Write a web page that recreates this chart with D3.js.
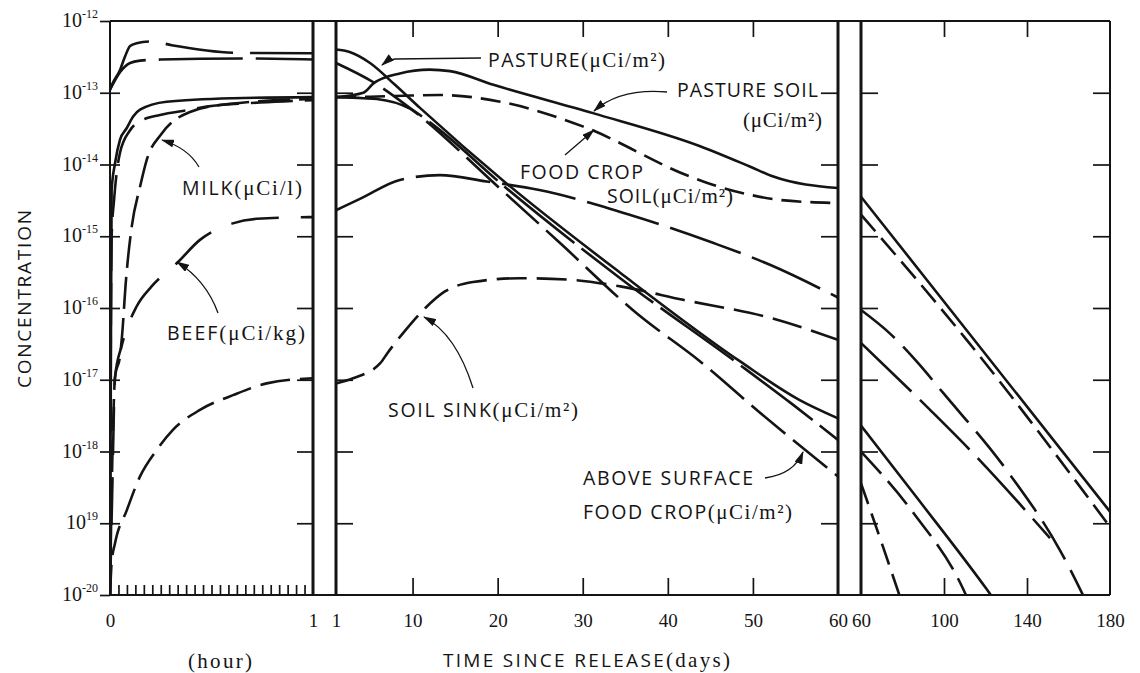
<!DOCTYPE html>
<html>
<head>
<meta charset="utf-8">
<script src="https://cdn.jsdelivr.net/npm/d3@7"></script>
<style>
  body { margin: 0; background: #fff; }
  svg { display: block; }
</style>
</head>
<body>
<div id="chart"></div>
<script>
// y axis decades and their printed exponents (the original prints "19" without the minus)
var decades = [1e-20, 1e-19, 1e-18, 1e-17, 1e-16, 1e-15, 1e-14, 1e-13, 1e-12];
var decadeLabels = ["-20", "19", "-18", "-17", "-16", "-15", "-14", "-13", "-12"];

// x ticks for the three time windows
var hourTicks = [0, 1];
var dayTicks = [1, 10, 20, 30, 40, 50, 60];
var lateTicks = [60, 100, 140, 180];

// ---- first hour (t in hours) ----
var pastureHour = [[0, 1.1e-13], [0.01, 1.3e-13], [0.05, 2.1e-13], [0.074, 3.2e-13], [0.099, 4.5e-13], [0.131, 4.9e-13], [0.205, 5.2e-13], [0.304, 4.6e-13], [0.631, 3.6e-13], [1, 3.55e-13]];
var aboveHour = [[0, 1.1e-13], [0.05, 1.95e-13], [0.099, 2.6e-13], [0.148, 2.8e-13], [0.246, 2.9e-13], [0.65, 3.0e-13], [1, 2.9e-13]];
var pastureSoilHour = [[0, 1e-20], [0.004, 1e-17], [0.008, 4.4e-15], [0.025, 1.05e-14], [0.049, 2.2e-14], [0.082, 3.2e-14], [0.115, 4.7e-14], [0.148, 5.8e-14], [0.279, 7.5e-14], [0.606, 8.4e-14], [1, 8.7e-14]];
var foodSoilHour = [[0, 1e-20], [0.003, 1e-17], [0.008, 1e-15], [0.02, 3.2e-15], [0.049, 1.45e-14], [0.099, 3.0e-14], [0.163, 4.2e-14], [0.246, 4.9e-14], [0.394, 5.8e-14], [0.476, 6.4e-14], [0.739, 7.3e-14], [1, 7.9e-14]];
var milkHour = [[0, 1e-20], [0.01, 5e-19], [0.025, 1.1e-17], [0.05, 2.2e-17], [0.059, 4.0e-17], [0.079, 2.5e-16], [0.107, 1.36e-15], [0.148, 4.9e-15], [0.181, 1.16e-14], [0.255, 2.7e-14], [0.394, 5.4e-14], [0.591, 7.0e-14], [1, 8.2e-14]];
var beefHour = [[0, 1e-20], [0.01, 2.1e-19], [0.025, 1.1e-17], [0.058, 3.0e-17], [0.131, 1.05e-16], [0.205, 2.0e-16], [0.329, 4.2e-16], [0.443, 8.9e-16], [0.6, 1.5e-15], [0.723, 1.75e-15], [1, 1.85e-15]];
var sinkHour = [[0, 1e-20], [0.008, 2.8e-20], [0.025, 5.3e-20], [0.082, 1.5e-19], [0.148, 4.5e-19], [0.23, 1.05e-18], [0.31, 2.0e-18], [0.443, 3.8e-18], [0.606, 6.1e-18], [0.772, 8.9e-18], [1, 1.05e-17]];

// ---- days 1 to 60 ----
var pastureDay = [[1, 4.0e-13], [2.6, 3.7e-13], [5, 2.6e-13], [7.9, 1.3e-13], [10.9, 6.1e-14], [21, 5.5e-15], [34.4, 3.1e-16], [48.5, 1.8e-17], [55.5, 5.2e-18], [60, 2.9e-18]];
var milkDay = [[1, 8.7e-14], [4.2, 8.4e-14], [5.8, 8.2e-14], [9.7, 6.0e-14], [12, 3.9e-14], [21, 4.7e-15], [34.4, 2.6e-16], [48.5, 1.6e-17], [54.7, 4.5e-18], [60, 1.45e-18]];
var aboveDay = [[1, 2.6e-13], [5.4, 1.4e-13], [9.7, 6.1e-14], [20.3, 4.6e-15], [27.3, 8.1e-16], [36.3, 8.5e-17], [43.8, 1.8e-17], [50.8, 3.5e-18], [60, 4.5e-19]];
var pastureSoilDay = [[1, 8.7e-14], [4.2, 1.0e-13], [5.4, 1.35e-13], [8.5, 1.86e-13], [12, 2.1e-13], [14.4, 2.0e-13], [19.5, 1.29e-13], [31.2, 5.2e-14], [43.8, 1.8e-14], [49.7, 9.3e-15], [52.4, 6.8e-15], [60, 4.7e-15]];
var foodSoilDay = [[1, 8.7e-14], [5, 8.8e-14], [9, 9.1e-14], [13.2, 9.3e-14], [20.3, 7.5e-14], [30, 3.4e-14], [42.6, 6.8e-15], [46, 4.9e-15], [49.6, 3.8e-15], [53.2, 3.2e-15], [60, 2.9e-15]];
var beefDay = [[1, 2.3e-15], [4, 3.4e-15], [8.5, 6.1e-15], [13.2, 7.1e-15], [18.7, 5.8e-15], [24.9, 4.4e-15], [35.5, 2.0e-15], [45.3, 8.1e-16], [52, 4.0e-16], [60, 1.4e-16]];
var sinkDay = [[1, 8.9e-18], [3, 1.05e-17], [6.2, 1.7e-17], [7.1, 2.4e-17], [9.1, 4.8e-17], [11.5, 1.0e-16], [13.8, 1.7e-16], [17.1, 2.3e-16], [22.6, 2.6e-16], [28.1, 2.5e-16], [34.4, 2.0e-16], [41.8, 1.3e-16], [52, 7.3e-17], [60, 3.6e-17]];

// ---- days 60 to 180 (curves run off the bottom edge and are clipped) ----
var pastureSoilLate = [[60, 3.56e-15], [110.9, 4.9e-17], [180, 1.45e-19]];
var foodSoilLate = [[60, 2.0e-15], [110.9, 3.6e-17], [180, 8.9e-20]];
var beefLate = [[60, 9.4e-17], [74, 4.4e-17], [86.8, 1.8e-17], [99.7, 6.5e-18], [130.2, 5.5e-19], [155.9, 4.2e-20], [172, 5e-21]];
var sinkLate = [[60, 3.25e-17], [93.3, 3.8e-18], [112.5, 1.05e-18], [151.1, 6.2e-20]];
var pastureLate = [[60, 2.3e-18], [86.8, 2.3e-19], [120.6, 1.2e-20], [130, 5e-21]];
var milkLate = [[60, 1.0e-18], [85.2, 1.4e-19], [109.3, 1.2e-20], [115, 5e-21]];
var aboveLate = [[60, 3.6e-19], [70.7, 4.6e-20], [82, 5e-21]];

var W = 1140, H = 673;
var ink = "#141414";

var svg = d3.select("#chart").append("svg")
    .attr("width", W)
    .attr("height", H);

var y = d3.scaleLog().domain([1e-20, 1e-12]).range([595, 21]);
var xHour = d3.scaleLinear().domain([0, 1]).range([110, 313]);
var xDay = d3.scaleLinear().domain([1, 60]).range([336, 838]);
var xLate = d3.scaleLinear().domain([60, 180]).range([861, 1110]);
var panels = [xHour, xDay, xLate];

var yTop = y(1e-12), yBot = y(1e-20);

// clip each window so the curves stop at its frame
var defs = svg.append("defs");
panels.forEach(function(x, i) {
    defs.append("clipPath").attr("id", "clip" + i)
      .append("rect")
        .attr("x", x.range()[0])
        .attr("y", yTop)
        .attr("width", x.range()[1] - x.range()[0])
        .attr("height", yBot - yTop);
});
defs.append("marker")
    .attr("id", "head")
    .attr("markerUnits", "userSpaceOnUse")
    .attr("markerWidth", 13).attr("markerHeight", 8)
    .attr("refX", 12).attr("refY", 4)
    .attr("orient", "auto")
  .append("path")
    .attr("d", "M0,0 L13,4 L0,8 Z")
    .attr("fill", ink);

// ---- ticks ----
function ticks(axis, tx, ty) {
    svg.append("g")
        .attr("transform", "translate(" + tx + "," + ty + ")")
        .call(axis)
        .call(function(g) { g.select(".domain").remove(); })
        .call(function(g) { g.selectAll("line").attr("stroke", ink).attr("stroke-width", 1.7); });
}
var inner = decades.slice(1, -1);
ticks(d3.axisLeft(y).tickValues(decades).tickSize(10).tickFormat(""), 110, 0);
ticks(d3.axisRight(y).tickValues(inner).tickSize(10).tickFormat(""), 110, 0);
ticks(d3.axisLeft(y).tickValues(inner).tickSize(16).tickFormat(""), 313, 0);
ticks(d3.axisRight(y).tickValues(inner).tickSize(17).tickFormat(""), 336, 0);
ticks(d3.axisLeft(y).tickValues(inner).tickSize(17).tickFormat(""), 838, 0);
ticks(d3.axisRight(y).tickValues(inner).tickSize(17).tickFormat(""), 861, 0);
ticks(d3.axisLeft(y).tickValues(inner).tickSize(17).tickFormat(""), 1110, 0);
ticks(d3.axisBottom(xDay).tickValues(dayTicks.slice(1, -1)).tickSize(16).tickFormat(""), 0, yTop);
ticks(d3.axisTop(xDay).tickValues(dayTicks.slice(1, -1)).tickSize(17).tickFormat(""), 0, yBot);
ticks(d3.axisBottom(xLate).tickValues(lateTicks.slice(1, -1)).tickSize(16).tickFormat(""), 0, yTop);
ticks(d3.axisTop(xLate).tickValues(lateTicks.slice(1, -1)).tickSize(17).tickFormat(""), 0, yBot);
ticks(d3.axisTop(xHour).tickValues(d3.range(1, 24).map(function(k) { return k / 24; })).tickSize(10).tickFormat(""), 0, yBot);

var sans = "'Open Sans', Lato, sans-serif";
var serif = "'Liberation Serif', 'DejaVu Serif', serif";

// x tick labels
[[xHour, hourTicks], [xDay, dayTicks], [xLate, lateTicks]].forEach(function(p) {
    svg.append("g")
        .attr("transform", "translate(0," + yBot + ")")
        .call(d3.axisBottom(p[0]).tickValues(p[1]).tickSize(0).tickPadding(19).tickFormat(d3.format("d")))
        .call(function(g) {
            g.select(".domain").remove();
            g.selectAll("text")
                .attr("fill", ink)
                .attr("font-family", serif)
                .attr("font-size", 19);
        });
});

// y tick labels: 10 with a raised exponent
decades.forEach(function(v, i) {
    var t = svg.append("text")
        .attr("x", 98)
        .attr("y", y(v) + 6)
        .attr("text-anchor", "end")
        .attr("fill", ink)
        .attr("font-family", serif);
    t.append("tspan").attr("font-size", 20).text("10");
    t.append("tspan").attr("font-size", 12).attr("dy", -9).text(decadeLabels[i]);
});

// ---- frame ----
var frame = svg.append("g").attr("stroke", ink).attr("fill", "none");
frame.append("line").attr("x1", 110).attr("x2", 1110).attr("y1", yTop).attr("y2", yTop).attr("stroke-width", 2);
frame.append("line").attr("x1", 110).attr("x2", 1110).attr("y1", yBot).attr("y2", yBot).attr("stroke-width", 2);
[110, 313, 336, 838, 861, 1110].forEach(function(xv, i) {
    frame.append("line")
        .attr("x1", xv).attr("x2", xv)
        .attr("y1", yTop).attr("y2", yBot)
        .attr("stroke-width", (i === 0 || i === 5) ? 2 : 3);
});

// ---- curves ----
var segments = [
    { p: 0, data: pastureHour, dash: "68,17" },
    { p: 0, data: aboveHour, dash: "84,13", offset: 34 },
    { p: 0, data: pastureSoilHour },
    { p: 0, data: foodSoilHour, dash: "42,12" },
    { p: 0, data: milkHour, dash: "32,9" },
    { p: 0, data: beefHour, dash: "48,22" },
    { p: 0, data: sinkHour, dash: "30,10" },
    { p: 1, data: pastureDay },
    { p: 1, data: milkDay, dash: "90,9" },
    { p: 1, data: aboveDay, dash: "44,10" },
    { p: 1, data: pastureSoilDay },
    { p: 1, data: foodSoilDay, dash: "20,9" },
    { p: 1, data: beefDay, dash: "75,12" },
    { p: 1, data: sinkDay, dash: "30,10" },
    { p: 2, data: pastureSoilLate },
    { p: 2, data: foodSoilLate, dash: "22,9" },
    { p: 2, data: beefLate, dash: "44,12" },
    { p: 2, data: sinkLate, dash: "70,12" },
    { p: 2, data: pastureLate },
    { p: 2, data: milkLate, dash: "30,10" },
    { p: 2, data: aboveLate, dash: "22,10" }
];

var curves = svg.append("g");
segments.forEach(function(s) {
    var x = panels[s.p];
    var line = d3.line()
        .x(function(d) { return x(d[0]); })
        .y(function(d) { return y(d[1]); })
        .curve(d3.curveMonotoneX);
    curves.append("path")
        .attr("d", line(s.data))
        .attr("clip-path", "url(#clip" + s.p + ")")
        .attr("fill", "none")
        .attr("stroke", ink)
        .attr("stroke-width", 2.6)
        .attr("stroke-dasharray", s.dash || null)
        .attr("stroke-dashoffset", s.offset || 0);
});

// ---- labels with arrows ----
var notes = [
    { parts: [["PASTURE", sans], ["(μCi/m²)", serif]], x: 488, y: 67, w: 177 },
    { parts: [["PASTURE SOIL", sans]], x: 677, y: 97, w: 141 },
    { parts: [["(μCi/m²)", serif]], x: 743, y: 127, w: 79 },
    { parts: [["FOOD CROP", sans]], x: 520, y: 179, w: 123 },
    { parts: [["SOIL", sans], ["(μCi/m²)", serif]], x: 607, y: 203, w: 126 },
    { parts: [["MILK", sans], ["(μCi/l)", serif]], x: 182, y: 195, w: 120 },
    { parts: [["BEEF", sans], ["(μCi/kg)", serif]], x: 167, y: 340, w: 138 },
    { parts: [["SOIL SINK", sans], ["(μCi/m²)", serif]], x: 388, y: 417, w: 190 },
    { parts: [["ABOVE SURFACE", sans]], x: 583, y: 485, w: 170 },
    { parts: [["FOOD CROP", sans], ["(μCi/m²)", serif]], x: 583, y: 519, w: 209 }
];
var arrows = [
    "M481,58 L395,59 Q388,60 382,65",
    "M667,92 Q620,88 594,111",
    "M565,155 L594,130",
    "M199,167 Q188,148 162,140",
    "M218,313 Q206,280 177,262",
    "M473,388 Q456,334 424,317",
    "M765,478 Q794,474 803,452"
];

var labels = svg.append("g").attr("fill", ink);
notes.forEach(function(n) {
    var t = labels.append("text")
        .attr("x", n.x)
        .attr("y", n.y)
        .attr("textLength", n.w)
        .attr("lengthAdjust", "spacing");
    n.parts.forEach(function(p) {
        t.append("tspan")
            .attr("font-family", p[1])
            .attr("font-size", p[1] === sans ? 19.5 : 21)
            .text(p[0]);
    });
});
arrows.forEach(function(d) {
    svg.append("path")
        .attr("d", d)
        .attr("fill", "none")
        .attr("stroke", ink)
        .attr("stroke-width", 1.3)
        .attr("marker-end", "url(#head)");
});

// ---- axis titles ----
svg.append("text")
    .attr("transform", "translate(31,299) rotate(-90)")
    .attr("text-anchor", "middle")
    .attr("font-family", sans)
    .attr("font-size", 19)
    .attr("fill", ink)
    .attr("textLength", 178)
    .attr("lengthAdjust", "spacing")
    .text("CONCENTRATION");

var tt = svg.append("text")
    .attr("x", 443)
    .attr("y", 667)
    .attr("fill", ink)
    .attr("textLength", 287)
    .attr("lengthAdjust", "spacing");
tt.append("tspan").attr("font-family", sans).attr("font-size", 19).text("TIME SINCE RELEASE");
tt.append("tspan").attr("font-family", serif).attr("font-size", 21).text("(days)");

svg.append("text")
    .attr("x", 188)
    .attr("y", 668)
    .attr("font-family", serif)
    .attr("font-size", 21)
    .attr("fill", ink)
    .attr("textLength", 64)
    .attr("lengthAdjust", "spacing")
    .text("(hour)");
</script>
</body>
</html>
